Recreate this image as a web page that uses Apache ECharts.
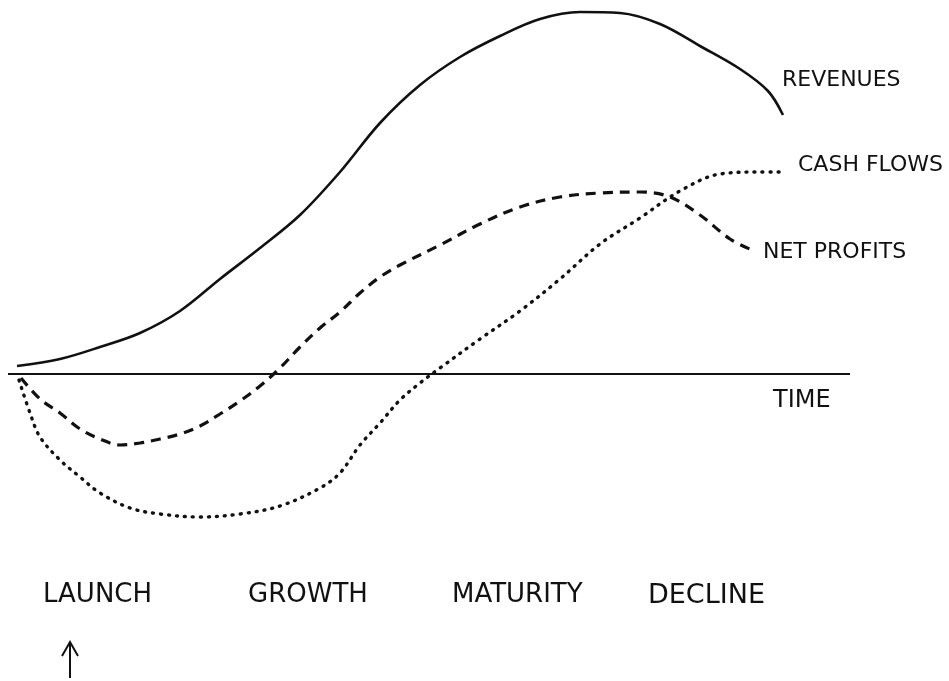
<!DOCTYPE html>
<html>
<head>
<meta charset="utf-8">
<script src="https://cdn.jsdelivr.net/npm/echarts@6/dist/echarts.min.js"></script>
<style>html,body{margin:0;padding:0;background:#fff}#c{width:949px;height:681px}</style>
</head>
<body>
<div id="c"></div>
<script>
// time (arbitrary units) and values (arbitrary units, 0 = break-even)
const revenues = [[17,8],[60,15],[100,27],[140,41],[180,63],[220,95],[260,126],[300,159],[340,202],[380,251],[420,289],[460,317],[500,338],[540,355],[580,362],[620,361],[660,350],[700,328],[740,305],[768,283],[783,259]];
const netProfits = [[21,-4],[40,-25],[60,-39],[80,-55],[100,-65],[120,-71],[140,-69],[160,-65],[180,-60],[200,-52],[220,-40],[240,-27],[260,-12],[280,6],[300,27],[320,46],[340,62],[360,81],[380,97],[400,109],[440,129],[480,150],[520,167],[560,177],[600,181],[640,182],[670,177],[700,159],[730,135],[752,124]];
const cashFlows = [[19,-6],[30,-39],[40,-63],[60,-86],[80,-103],[100,-119],[130,-134],[160,-140],[200,-143],[240,-140],[280,-132],[320,-114],[340,-99],[360,-71],[380,-49],[400,-26],[420,-9],[440,6],[480,35],[520,63],[560,95],[600,130],[640,156],[680,183],[720,200],[760,202],[785,202]];
const timeAxis = [[8,0],[850,0]];
const seriesNames = ['REVENUES', 'CASH FLOWS', 'NET PROFITS'];
const axisName = 'TIME';
const stages = ['LAUNCH', 'GROWTH', 'MATURITY', 'DECLINE'];

const chart = echarts.init(document.getElementById('c'));
const font = '"DejaVu Sans", sans-serif';
const txt = (text, x, y, size) => ({type:'text', left:x, top:y, style:{text, fill:'#111', font:'normal ' + size + 'px ' + font}});
const curve = {type:'line', smooth:0.35, symbol:'none'};
chart.setOption({
  backgroundColor:'#fff',
  animation:false,
  grid:{left:0, right:0, top:0, bottom:0},
  xAxis:{type:'value', min:0, max:949, show:false},
  yAxis:{type:'value', min:-307, max:374, show:false},
  series:[
    {type:'line', data:timeAxis, symbol:'none', lineStyle:{color:'#111', width:2.2}},
    Object.assign({name:seriesNames[0], data:revenues, lineStyle:{color:'#111', width:2.6}}, curve),
    Object.assign({name:seriesNames[2], data:netProfits, lineStyle:{color:'#111', width:3.2, type:[10,7]}}, curve),
    Object.assign({name:seriesNames[1], data:cashFlows, lineStyle:{color:'#111', width:3.4, type:[1,7], cap:'round'}}, curve)
  ],
  graphic:[
    txt(seriesNames[0], 782, 69, 22),
    txt(seriesNames[1], 798, 154, 22),
    txt(seriesNames[2], 763, 241, 22),
    txt(axisName, 773, 389, 24),
    txt(stages[0], 43, 582, 26),
    txt(stages[1], 248, 582, 26),
    txt(stages[2], 452, 582, 26),
    txt(stages[3], 648, 582, 27),
    {type:'line', shape:{x1:70, y1:678, x2:70, y2:643}, style:{stroke:'#111', lineWidth:2}},
    {type:'polyline', shape:{points:[[62,656],[70,642],[78,656]]}, style:{stroke:'#111', lineWidth:2, fill:null}}
  ]
});
</script>
</body>
</html>
